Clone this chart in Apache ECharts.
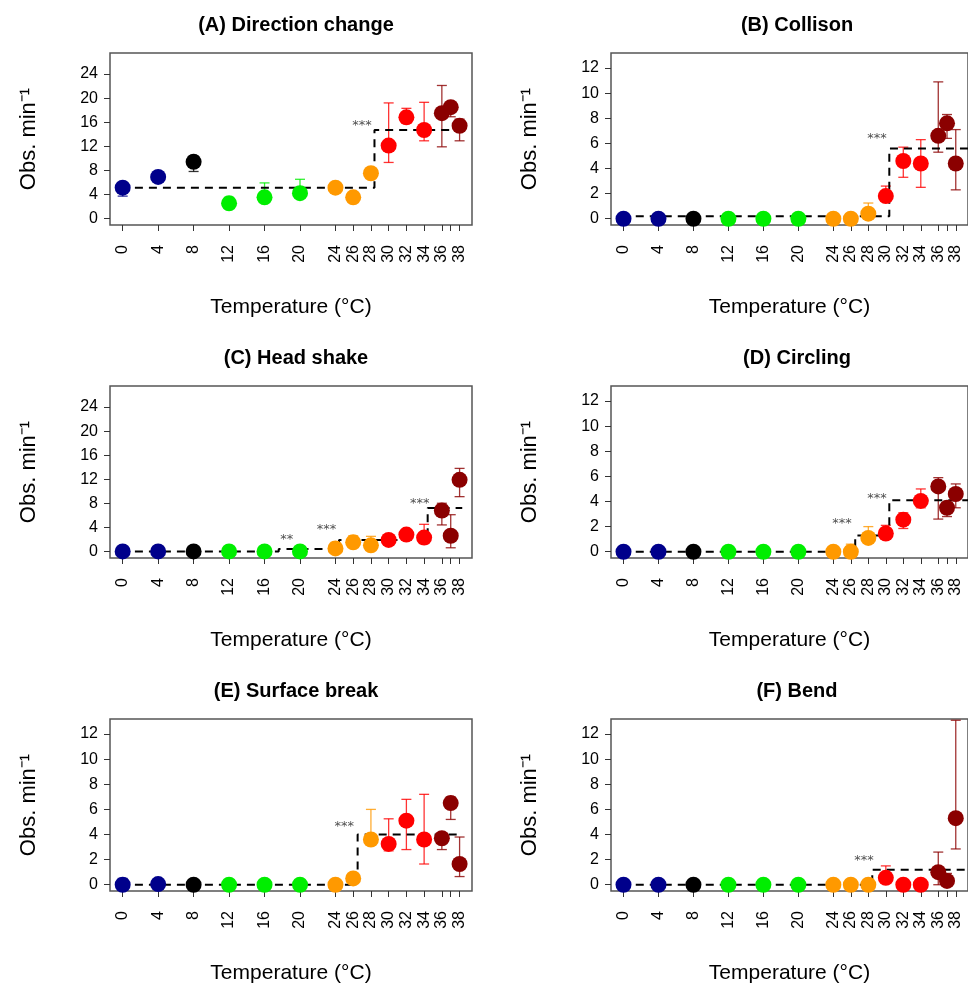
<!DOCTYPE html>
<html><head><meta charset="utf-8">
<script src="https://cdn.jsdelivr.net/npm/echarts@6/dist/echarts.min.js"></script>
<style>html,body{margin:0;background:#fff}#c{width:968px;height:986px}</style>
</head><body><div id="c"></div>
<script>
var temps = [0,4,8,12,16,20,24,26,28,30,32,34,36,37,38];
var tickLabels = [0,4,8,12,16,20,24,26,28,30,32,34,36,38];
var colors = ['#00008b','#00008b','#000000','#00ee00','#00ee00','#00ee00','#ff9900','#ff9900','#ff9900','#ff0000','#ff0000','#ff0000','#8b0000','#8b0000','#8b0000'];
var titles = ['(A) Direction change','(B) Collison','(C) Head shake','(D) Circling','(E) Surface break','(F) Bend'];

var meanA = [5.1,6.9,9.4,2.5,3.5,4.2,5.1,3.5,7.5,12.1,16.8,14.7,17.5,18.5,15.4];
var loA   = [3.7,6.5,7.8,2.5,3.5,4.2,4.8,3.5,7.5,9.3,15.8,12.9,11.9,16.9,12.9];
var hiA   = [5.1,7.2,10.4,3.5,5.9,6.5,5.4,3.5,7.5,19.2,18.3,19.3,22.1,18.5,16.5];
var meanB = [0,0,0,0,0,0,0,0,0.4,1.8,4.6,4.4,6.6,7.6,4.4];
var loB   = [0,0,0,0,0,0,0,0,0.4,1.8,3.3,2.5,5.3,6.4,2.3];
var hiB   = [0,0,0,0,0,0,0,0,1.25,2.6,5.7,6.3,10.9,8.3,7.1];
var meanC = [0,0,0,0,0,0,0.5,1.5,1.0,1.9,2.8,2.3,6.8,2.6,11.9];
var loC   = [0,0,0,0,0,0,0.5,1.5,1.0,1.9,2.8,1.3,4.4,0.6,9.1];
var hiC   = [0,0,0,0,0,0,1.5,2.6,2.5,1.9,2.8,4.5,8.0,6.1,13.8];
var meanD = [0,0,0,0,0,0,0,0,1.1,1.45,2.55,4.05,5.2,3.5,4.6];
var loD   = [0,0,0,0,0,0,0,0,1.1,1.45,1.85,3.5,2.6,2.8,3.5];
var hiD   = [0,0,0,0,0,0,0,0.6,2.0,2.1,3.1,5.0,5.9,3.5,5.4];
var meanE = [0,0.05,0,0,0,0,0,0.5,3.6,3.25,5.1,3.6,3.7,6.5,1.65];
var loE   = [0,0.05,0,0,0,0,0,0.5,3.6,2.7,2.8,1.65,2.8,5.2,0.65];
var hiE   = [0.5,0.05,0,0,0,0,0,0.5,6.0,5.25,6.8,7.2,3.7,7.0,3.8];
var meanF = [0,0,0,0,0,0,0,0,0,0.55,0,0,1.0,0.3,5.3];
var loF   = [0,0,0,0,0,0,0,0,0,0.55,0,0,0,0.3,2.85];
var hiF   = [0,0,0,0,0,0,0,0,0,1.5,0,0,2.6,0.9,13.1];

// step fits: [x, y] breakpoints
var stepA = [[-0.2,5.1],[28.4,5.1],[28.4,14.7],[38.3,14.7]];
var stepB = [[-0.2,0.2],[30.4,0.2],[30.4,5.6],[39.4,5.6]];
var stepC = [[-0.2,0],[17.6,0],[17.6,0.4],[24.4,0.4],[24.4,1.9],[34.4,1.9],[34.4,7.2],[38.3,7.2]];
var stepD = [[-0.2,0],[26.5,0],[26.5,1.3],[30.4,1.3],[30.4,4.1],[39.4,4.1]];
var stepE = [[-0.2,0],[26.5,0],[26.5,4.0],[38.3,4.0]];
var stepF = [[-0.2,0],[28.45,0],[28.45,1.2],[39.4,1.2]];
// significance stars: [x, y, text]
var starsA = [[27.0,15.5,'***']];
var starsB = [[29.0,6.4,'***']];
var starsC = [[18.5,1.9,'**'],[23.0,3.7,'***'],[33.5,8.0,'***']];
var starsD = [[25.0,2.2,'***'],[29.0,4.2,'***']];
var starsE = [[25.0,4.6,'***']];
var starsF = [[27.5,1.9,'***']];

var panels = [
  {m:meanA,lo:loA,hi:hiA,step:stepA,stars:starsA,ymin:-1.1,ymax:27.5,ticks:[0,4,8,12,16,20,24]},
  {m:meanB,lo:loB,hi:hiB,step:stepB,stars:starsB,ymin:-0.5,ymax:13.2,ticks:[0,2,4,6,8,10,12]},
  {m:meanC,lo:loC,hi:hiC,step:stepC,stars:starsC,ymin:-1.1,ymax:27.5,ticks:[0,4,8,12,16,20,24]},
  {m:meanD,lo:loD,hi:hiD,step:stepD,stars:starsD,ymin:-0.5,ymax:13.2,ticks:[0,2,4,6,8,10,12]},
  {m:meanE,lo:loE,hi:hiE,step:stepE,stars:starsE,ymin:-0.5,ymax:13.2,ticks:[0,2,4,6,8,10,12]},
  {m:meanF,lo:loF,hi:hiF,step:stepF,stars:starsF,ymin:-0.5,ymax:13.2,ticks:[0,2,4,6,8,10,12]}
];

var FONT = 'Liberation Sans';
var lefts = [110, 611], tops = [53, 386, 719], W = 362, H = 172;
var grid = [], xAxis = [], yAxis = [], series = [], title = [];

panels.forEach(function(p, i){
  var col = i % 2, row = Math.floor(i / 2);
  grid.push({left: lefts[col], top: tops[row], width: W, height: H, show: true, borderColor: '#555', borderWidth: 1.5, backgroundColor: 'transparent'});
  title.push({text: titles[i], left: lefts[col] + W/2, top: tops[row] - 43, textAlign: 'center',
    textStyle: {fontFamily: FONT, fontSize: 20, fontWeight: 'bold', color: '#000'}});
  xAxis.push({gridIndex: i, type: 'value', min: -1.43, max: 39.4,
    name: 'Temperature (°C)', nameLocation: 'middle', nameGap: 72,
    nameTextStyle: {fontFamily: FONT, fontSize: 21, color: '#000'},
    axisLine: {show: false, onZero: false}, splitLine: {show: false},
    axisTick: {show: true, inside: false, length: 6, customValues: temps, lineStyle: {color: '#333'}},
    axisLabel: {customValues: tickLabels, rotate: 90, fontFamily: FONT, fontSize: 16, color: '#000', margin: 20}});
  yAxis.push({gridIndex: i, type: 'value', min: p.ymin, max: p.ymax,
    name: 'Obs. min\u207B\u00B9', nameLocation: 'middle', nameGap: 70, nameRotate: 90,
    nameTextStyle: {fontFamily: FONT, fontSize: 22, color: '#000'},
    axisLine: {show: false, onZero: false}, splitLine: {show: false},
    axisTick: {show: true, inside: false, length: 6, customValues: p.ticks, lineStyle: {color: '#333'}},
    axisLabel: {customValues: p.ticks, fontFamily: FONT, fontSize: 16, color: '#000', margin: 12}});
  var pts = temps.map(function(t, k){ return [t, p.m[k], p.lo[k], p.hi[k]]; });
  series.push({type: 'line', xAxisIndex: i, yAxisIndex: i, data: p.step, symbol: 'none', z: 3,
    lineStyle: {color: '#000', width: 2, type: [8, 6]}, silent: true});
  series.push({type: 'custom', xAxisIndex: i, yAxisIndex: i, data: pts, z: 2,
    renderItem: function(params, api){
      var x = api.value(0), lo = api.value(2), hi = api.value(3);
      var a = api.coord([x, hi]), b = api.coord([x, lo]);
      var c = colors[params.dataIndex];
      var style = {stroke: c, lineWidth: 1.3, opacity: 0.8};
      if (b[1] - a[1] < 1) return {type: 'group', children: []};
      return {type: 'group', children: [
        {type: 'line', shape: {x1: a[0], y1: a[1], x2: b[0], y2: b[1]}, style: style},
        {type: 'line', shape: {x1: a[0]-5, y1: a[1], x2: a[0]+5, y2: a[1]}, style: style},
        {type: 'line', shape: {x1: b[0]-5, y1: b[1], x2: b[0]+5, y2: b[1]}, style: style}
      ]};
    }});
  series.push({type: 'scatter', xAxisIndex: i, yAxisIndex: i, z: 4, symbolSize: 16,
    data: pts.map(function(d, k){ return {value: [d[0], d[1]], itemStyle: {color: colors[k], opacity: 1}}; })});
  series.push({type: 'scatter', xAxisIndex: i, yAxisIndex: i, z: 5, symbolSize: 0,
    data: p.stars.map(function(s){ return [s[0], s[1], s[2]]; }),
    label: {show: true, position: 'inside', formatter: function(q){ return q.value[2]; },
      fontFamily: 'DejaVu Sans', fontSize: 13, color: '#222'}});
});

var chart = echarts.init(document.getElementById('c'));
chart.setOption({animation: false, backgroundColor: '#fff', title: title, grid: grid, xAxis: xAxis, yAxis: yAxis, series: series});
</script></body></html>
